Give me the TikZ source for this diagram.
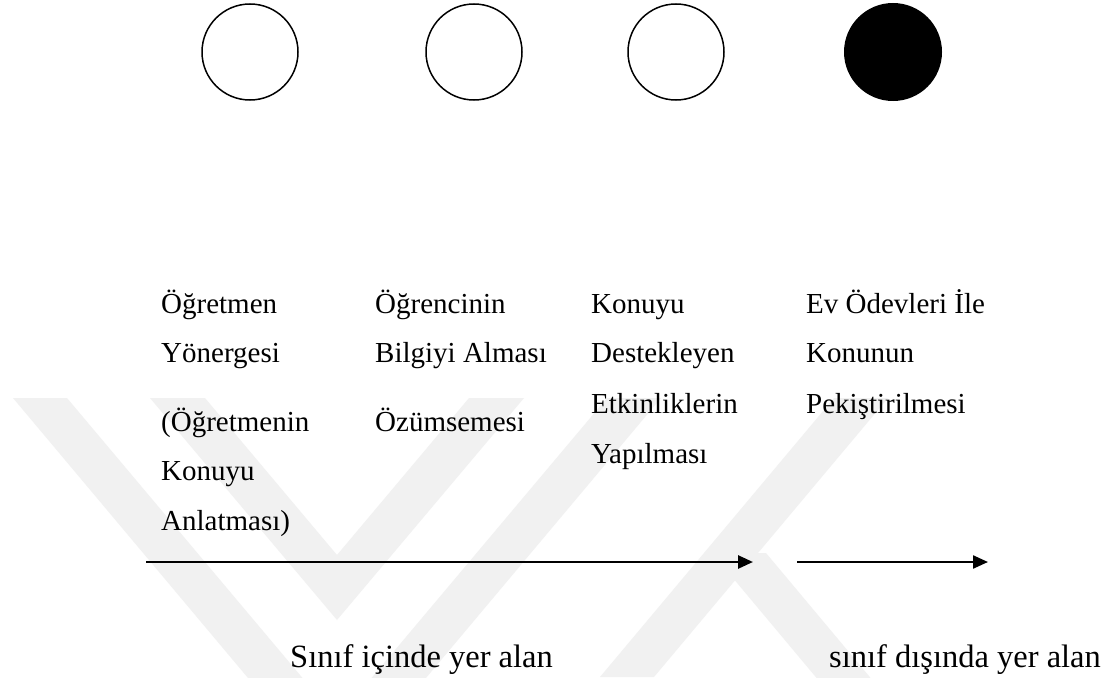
\documentclass[tikz,border=0pt]{standalone}
\usepackage{fontspec}
\setmainfont{Liberation Serif}
\usetikzlibrary{arrows.meta}
\definecolor{wmgray}{gray}{0.945}
\tikzset{
  ring/.style={circle, draw=black, line width=1.5pt, minimum size=96pt, inner sep=0pt},
  dot/.style={circle, fill=black, minimum size=98pt, inner sep=0pt},
  lbl/.style={anchor=base west, inner sep=0pt, font=\fontsize{29}{29}\selectfont},
  biglbl/.style={anchor=base west, inner sep=0pt, font=\fontsize{32.5}{32.5}\selectfont},
  flow/.style={line width=2.7pt, -{Triangle[length=15pt,width=13pt]}},
  flowthin/.style={line width=2.3pt, -{Triangle[length=15pt,width=13pt]}},
  wm/.style={fill=wmgray, draw=none}
}
\begin{document}
\begin{tikzpicture}[x=1pt,y=-1pt]
\useasboundingbox (0,0) rectangle (1105,677);
\fill[white] (0,0) rectangle (1105,677);
% faint background watermark
\begin{scope}
\clip (0,0) rectangle (1105,677);
\fill[wm] (13,398) -- (67,398) -- (337,719) -- (607,398) -- (661,398) -- (337,784) -- cycle;
\fill[wm] (150,398) -- (205,398) -- (337,555) -- (469,398) -- (524,398) -- (337,620) -- cycle;
\fill[wm] (600,677) -- (654,677) -- (888,398) -- (834,398) -- cycle;
\fill[wm] (712,553) -- (766,553) -- (889,700) -- (835,700) -- cycle;
\end{scope}
% circles
\node[ring] (c1) at (250,52) {};
\node[ring] (c2) at (474,52) {};
\node[ring] (c3) at (676,52) {};
\node[dot]  (c4) at (893,52) {};
% column 1
\node[lbl] (t11) at (161,313) {Öğretmen};
\node[lbl] (t12) at (161,362) {Yönergesi};
\node[lbl] (t13) at (161,431) {(Öğretmenin};
\node[lbl] (t14) at (161,480) {Konuyu};
\node[lbl] (t15) at (161,530) {Anlatması)};
% column 2
\node[lbl] (t21) at (375,313) {Öğrencinin};
\node[lbl] (t22) at (375,362) {Bilgiyi Alması};
\node[lbl] (t23) at (375,431) {Özümsemesi};
% column 3
\node[lbl] (t31) at (591,313) {Konuyu};
\node[lbl] (t32) at (591,362) {Destekleyen};
\node[lbl] (t33) at (591,413) {Etkinliklerin};
\node[lbl] (t34) at (591,463) {Yapılması};
% column 4
\node[lbl] (t41) at (806,313) {Ev Ödevleri İle};
\node[lbl] (t42) at (806,362) {Konunun};
\node[lbl] (t43) at (806,413) {Pekiştirilmesi};
% arrows
\coordinate (a1s) at (146,562);
\coordinate (a1e) at (753,562);
\coordinate (a2s) at (797,562);
\coordinate (a2e) at (988,562);
\draw[flow] (a1s) -- (a1e);
\draw[flowthin] (a2s) -- (a2e);
% bottom labels
\node[biglbl] (in) at (290,667) {Sınıf içinde yer alan};
\node[biglbl] (out) at (829,667) {sınıf dışında yer alan};
\end{tikzpicture}
\end{document}
